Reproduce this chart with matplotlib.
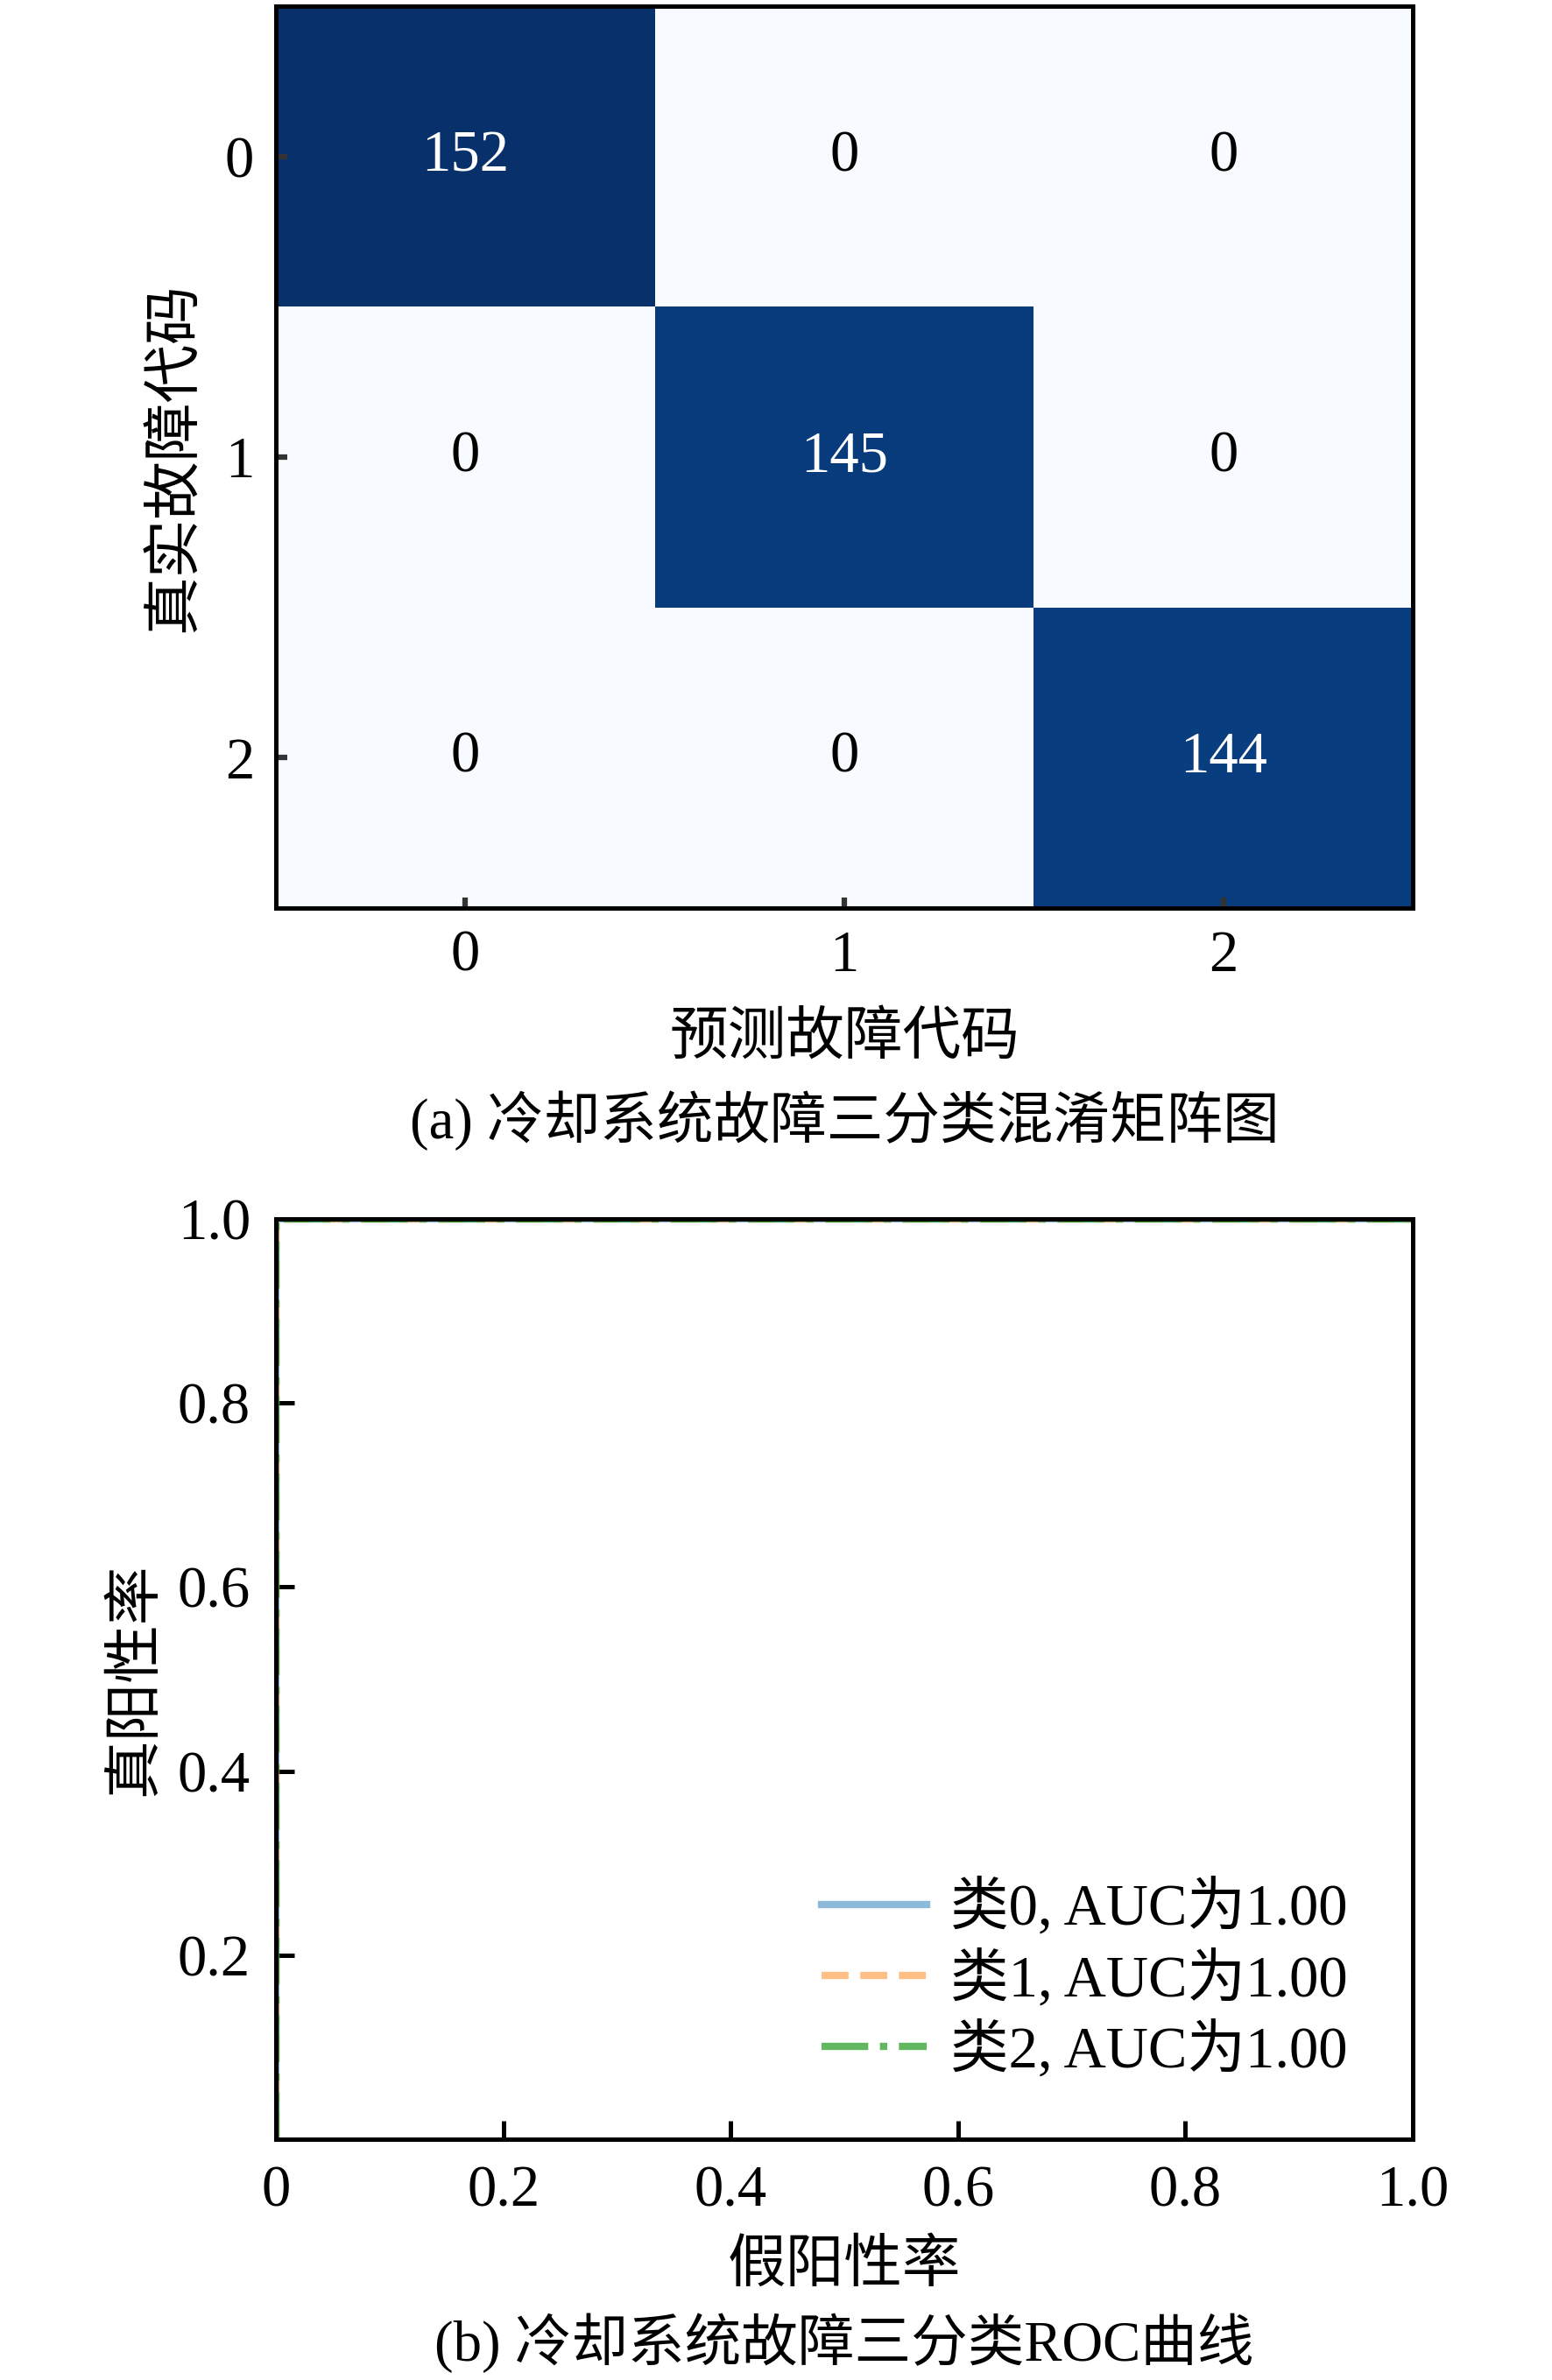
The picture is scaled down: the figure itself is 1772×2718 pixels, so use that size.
import numpy as np
import matplotlib
matplotlib.use("Agg")
import matplotlib.pyplot as plt

plt.rcParams['font.family'] = ['Liberation Serif', 'Noto Sans CJK SC']
plt.rcParams['axes.unicode_minus'] = False

# 数据
classes = ['0', '1', '2']
conf_mat = np.array([[152, 0, 0],
                     [0, 145, 0],
                     [0, 0, 144]])

roc_fpr = [[0.0, 0.0, 1.0], [0.0, 0.0, 1.0], [0.0, 0.0, 1.0]]
roc_tpr = [[0.0, 1.0, 1.0], [0.0, 1.0, 1.0], [0.0, 1.0, 1.0]]
roc_auc = [1.00, 1.00, 1.00]
roc_colors = ['tab:blue', 'tab:orange', 'tab:green']
roc_styles = ['-', '--', '-.']
roc_alpha = [0.5, 0.5, 0.75]

xticks_roc = [0, 0.2, 0.4, 0.6, 0.8, 1.0]
xticklabels_roc = ['0', '0.2', '0.4', '0.6', '0.8', '1.0']
yticks_roc = [0.2, 0.4, 0.6, 0.8, 1.0]

fs = 16
fig = plt.figure(figsize=(1772 / 300, 2718 / 300), dpi=300)

# (a) 混淆矩阵
ax1 = fig.add_axes([0.1778, 0.6185, 0.7325, 0.3789])
n = len(classes)
ax1.pcolormesh(np.arange(n + 1) - 0.5, np.arange(n + 1) - 0.5, conf_mat,
               cmap='Blues', vmin=0, vmax=conf_mat.max())
ax1.set_xlim(-0.5, n - 0.5)
ax1.set_ylim(n - 0.5, -0.5)
for i in range(n):
    for j in range(n):
        v = conf_mat[i, j]
        ax1.text(j, i, str(v), ha='center', va='center', fontsize=fs,
                 color='white' if v > conf_mat.max() / 2 else 'black')
ax1.set_xticks(range(n))
ax1.set_xticklabels(classes)
ax1.set_yticks(range(n))
ax1.set_yticklabels(classes)
ax1.tick_params(direction='in', length=3, width=1.5, color='#333333',
                labelsize=fs, pad=6)
for s in ax1.spines.values():
    s.set_linewidth(1.2)
ax1.set_xlabel('预测故障代码', fontsize=fs, labelpad=8)
ax1.set_ylabel('真实故障代码', fontsize=fs, labelpad=6)
fig.text(0.544, 0.529, '(a) 冷却系统故障三分类混淆矩阵图', ha='center',
         va='center', fontsize=15.5)

# (b) ROC曲线
ax2 = fig.add_axes([0.1778, 0.1012, 0.7325, 0.3867])
for k in range(n):
    ax2.plot(roc_fpr[k], roc_tpr[k], color=roc_colors[k],
             linestyle=roc_styles[k], alpha=roc_alpha[k], lw=2.0,
             label='类%d, AUC为%.2f' % (k, roc_auc[k]))
ax2.set_xlim(0, 1)
ax2.set_ylim(0, 1)
ax2.set_xticks(xticks_roc)
ax2.set_xticklabels(xticklabels_roc)
ax2.set_yticks(yticks_roc)
ax2.set_yticklabels(['%.1f' % t for t in yticks_roc])
ax2.tick_params(direction='in', length=5, width=1.2, labelsize=fs, pad=7)
for s in ax2.spines.values():
    s.set_linewidth(1.2)
ax2.set_xlabel('假阳性率', fontsize=fs, labelpad=6)
ax2.set_ylabel('真阳性率', fontsize=fs, labelpad=4)
ax2.legend(loc='lower right', frameon=False, fontsize=fs,
           labelspacing=0.22, handlelength=1.8, handletextpad=0.4,
           borderaxespad=0.0, bbox_to_anchor=(0.963, 0.04))
fig.text(0.544, 0.0155, '(b) 冷却系统故障三分类ROC曲线', ha='center',
         va='center', fontsize=15.5)

fig.savefig('out.png', dpi=300)
